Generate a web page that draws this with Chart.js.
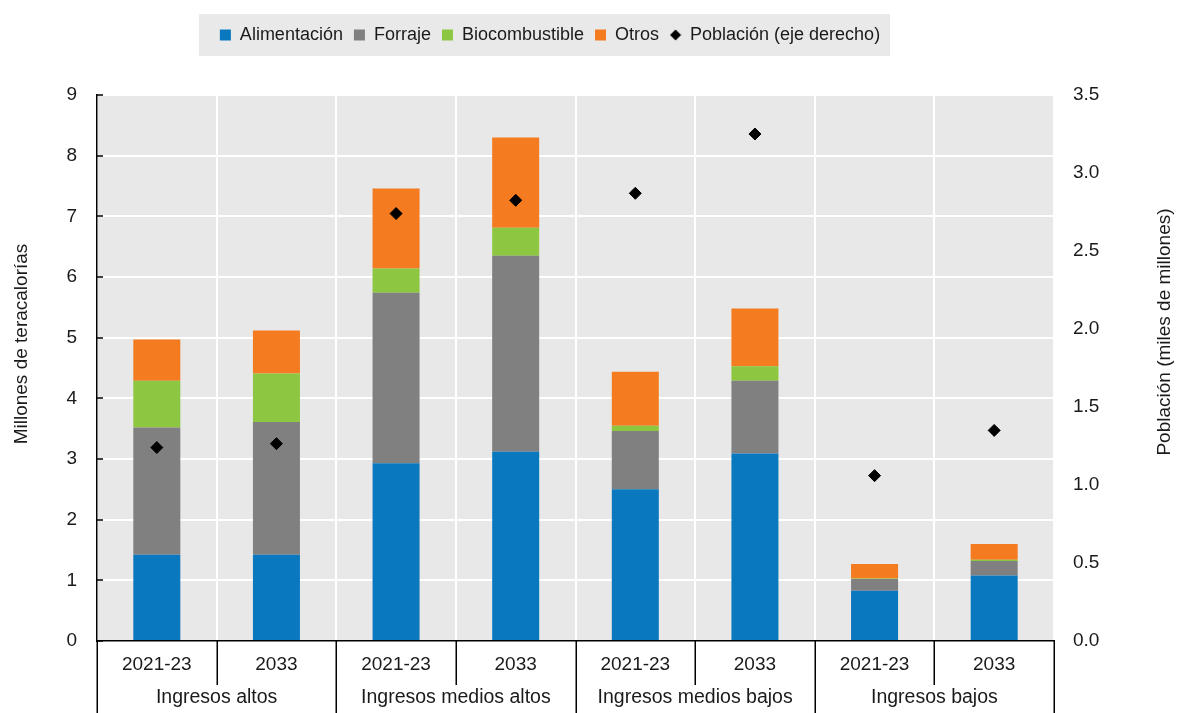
<!DOCTYPE html>
<html><head><meta charset="utf-8">
<script src="https://cdn.jsdelivr.net/npm/chart.js@4.4.1/dist/chart.umd.min.js"></script>
<style>html,body{margin:0;padding:0;background:#fff;}</style>
</head><body>
<canvas id="c" width="1180" height="713" style="display:block;width:1180px;height:713px"></canvas>
<script>
// ---- data ----
const periods = ['2021-23','2033','2021-23','2033','2021-23','2033','2021-23','2033'];
const groups = ['Ingresos altos','Ingresos medios altos','Ingresos medios bajos','Ingresos bajos'];
const alimentacion   = [1.42, 1.42, 2.93, 3.12, 2.50, 3.09, 0.83, 1.08];
const forraje        = [2.10, 2.19, 2.81, 3.23, 0.96, 1.20, 0.19, 0.24];
const biocombustible = [0.77, 0.80, 0.40, 0.46, 0.09, 0.24, 0.01, 0.02];
const otros          = [0.68, 0.71, 1.32, 1.49, 0.89, 0.95, 0.24, 0.26];
const poblacion      = [1.24, 1.265, 2.74, 2.825, 2.87, 3.25, 1.06, 1.35];
const seriesNames = ['Alimentación','Forraje','Biocombustible','Otros','Población (eje derecho)'];
const leftTitle = 'Millones de teracalorías';
const rightTitle = 'Población (miles de millones)';

const FONT = "'Liberation Sans', Arial, Helvetica, sans-serif";
const TXT = '#1a1a1a';
Chart.defaults.font.family = FONT;
Chart.defaults.font.size = 18;
Chart.defaults.color = TXT;

// small diamond for the legend
const legendDiamond = document.createElement('canvas');
legendDiamond.width = 12; legendDiamond.height = 12;
(function(){ const g = legendDiamond.getContext('2d'); g.fillStyle = '#000'; g.beginPath();
  g.moveTo(6,0.5); g.lineTo(11.5,6); g.lineTo(6,11.5); g.lineTo(0.5,6); g.closePath(); g.fill(); })();

const deco = {
  id: 'deco',
  beforeDraw(chart) {
    const {ctx, chartArea: a} = chart;
    ctx.save();
    ctx.fillStyle = '#e8e8e8';
    ctx.fillRect(a.left, a.top, a.right - a.left, a.bottom - a.top);
    const lg = chart.legend;
    if (lg && lg.legendHitBoxes && lg.legendHitBoxes.length) {
      const hb = lg.legendHitBoxes;
      let l = Infinity, r = -Infinity;
      hb.forEach(h => { l = Math.min(l, h.left); r = Math.max(r, h.left + h.width); });
      const cy = hb[0].top + hb[0].height / 2;
      ctx.fillStyle = '#e9e9e9';
      ctx.fillRect(l - 21, cy - 21, (r - l) + 31, 42);
    }
    ctx.restore();
  },
  afterDraw(chart) {
    const {ctx} = chart;
    const xs = chart.scales.x;
    const n = periods.length;
    const step = (xs.right - xs.left) / n;
    const y0 = xs.top;
    ctx.save();
    ctx.strokeStyle = '#000';
    ctx.lineWidth = 1.5;
    for (let i = 0; i <= n; i++) {
      const x = Math.round(xs.left + i * step) + 0.25;
      const y2 = (i % 2 === 0) ? chart.height : y0 + 44;
      ctx.beginPath(); ctx.moveTo(x, y0); ctx.lineTo(x, y2); ctx.stroke();
    }
    ctx.fillStyle = TXT;
    ctx.font = '19.5px ' + FONT;
    ctx.textAlign = 'center';
    ctx.textBaseline = 'middle';
    groups.forEach((g, k) => {
      const cx = xs.left + (2 * k + 1) * step;
      ctx.fillText(g, cx, y0 + 57);
    });
    // axis titles
    ctx.font = '19px ' + FONT;
    ctx.save();
    ctx.translate(22, 344); ctx.rotate(-Math.PI / 2);
    ctx.fillText(leftTitle, 0, 0);
    ctx.restore();
    ctx.save();
    ctx.translate(1165, 332); ctx.rotate(-Math.PI / 2);
    ctx.fillText(rightTitle, 0, 0);
    ctx.restore();
    ctx.restore();
  }
};

const barCommon = { type: 'bar', yAxisID: 'y', stack: 's', borderWidth: 0, pointStyle: 'rect',
  barPercentage: 0.393, categoryPercentage: 1.0 };

new Chart(document.getElementById('c'), {
  data: {
    labels: periods,
    datasets: [
      Object.assign({}, barCommon, { label: seriesNames[0], data: alimentacion, backgroundColor: '#0a78be' }),
      Object.assign({}, barCommon, { label: seriesNames[1], data: forraje, backgroundColor: '#808080' }),
      Object.assign({}, barCommon, { label: seriesNames[2], data: biocombustible, backgroundColor: '#8dc641' }),
      Object.assign({}, barCommon, { label: seriesNames[3], data: otros, backgroundColor: '#f47b20' }),
      { type: 'line', label: seriesNames[4], data: poblacion, yAxisID: 'y1', showLine: false,
        order: -1, pointStyle: 'rectRot', pointRadius: 6, pointHoverRadius: 6,
        pointBackgroundColor: '#000', pointBorderColor: '#000', pointBorderWidth: 1,
        backgroundColor: '#000', borderColor: '#000' }
    ]
  },
  options: {
    responsive: false,
    animation: false,
    events: [],
    layout: { padding: { top: 15, right: 80, left: 0, bottom: 0 } },
    plugins: {
      tooltip: { enabled: false },
      legend: {
        position: 'top',
        labels: {
          usePointStyle: true, boxWidth: 11, boxHeight: 11, padding: 11,
          color: TXT, font: { size: 18, family: FONT },
          sort: (a, b) => a.datasetIndex - b.datasetIndex,
          generateLabels(chart) {
            const items = Chart.defaults.plugins.legend.labels.generateLabels(chart);
            items.forEach(it => {
              if (it.datasetIndex === 4) it.pointStyle = legendDiamond;
              it.lineWidth = 0;
            });
            return items;
          }
        }
      },
      title: { display: true, text: '', weight: 500, position: 'top',
        font: { size: 1, lineHeight: 1 }, padding: { top: 0, bottom: 40 } }
    },
    scales: {
      x: {
        type: 'category',
        offset: true,
        grid: { color: '#ffffff', lineWidth: 2, drawTicks: false, offset: true },
        border: { color: '#000', width: 1.5, z: 1 },
        ticks: { padding: 12, color: TXT, font: { size: 19 }, maxRotation: 0, autoSkip: false },
        afterFit(s) { s.height = 72; }
      },
      y: {
        position: 'left', min: 0, max: 9, stacked: true,
        grid: { color: '#ffffff', lineWidth: 2, tickColor: '#000', tickLength: -6, tickWidth: 1.5 },
        border: { color: '#000', width: 1.5, z: 1 },
        ticks: { stepSize: 1, padding: 26, color: TXT, font: { size: 19 } },
        afterFit(s) { s.width = 97; }
      },
      y1: {
        position: 'right', min: 0, max: 3.5,
        grid: { drawOnChartArea: false, drawTicks: false },
        border: { display: false },
        ticks: { stepSize: 0.5, padding: 19, color: TXT, font: { size: 19 },
          callback: v => Number(v).toFixed(1) },
        afterFit(s) { s.width = 46; }
      }
    }
  },
  plugins: [deco]
});
</script>
</body></html>
